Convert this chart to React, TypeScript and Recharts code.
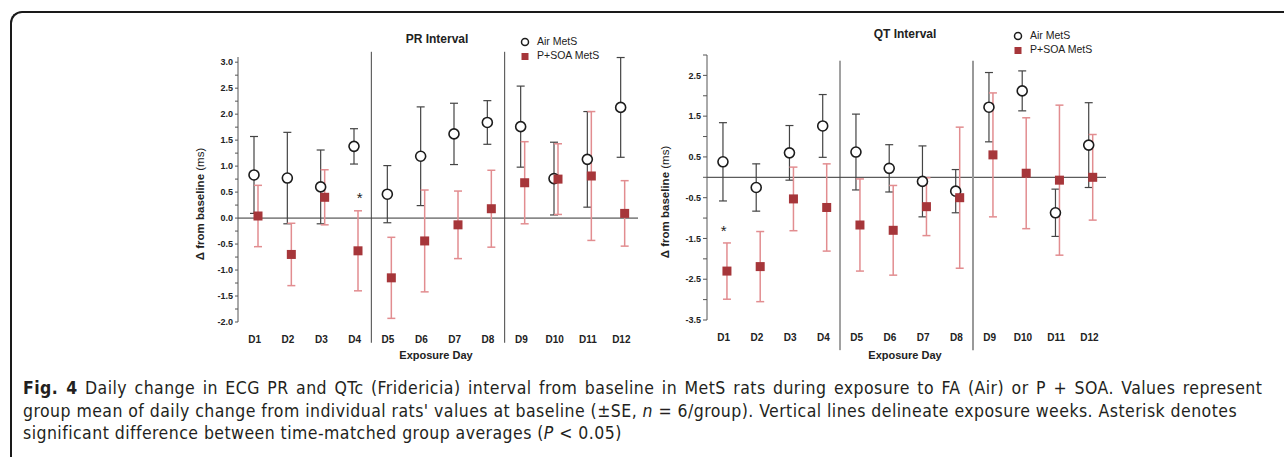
import React from 'react';
import { ScatterChart, Scatter, XAxis, YAxis, ErrorBar, ReferenceLine, ReferenceDot } from 'recharts';

// exposure days
const days = ['D1', 'D2', 'D3', 'D4', 'D5', 'D6', 'D7', 'D8', 'D9', 'D10', 'D11', 'D12'];

// PR interval, change from baseline (ms), mean and SE
const prAir = [0.83, 0.77, 0.6, 1.38, 0.46, 1.19, 1.62, 1.84, 1.76, 0.76, 1.13, 2.13];
const prAirSe = [0.74, 0.88, 0.71, 0.34, 0.55, 0.95, 0.59, 0.42, 0.78, 0.7, 0.92, 0.96];
const prSoa = [0.04, -0.7, 0.4, -0.63, -1.15, -0.44, -0.13, 0.18, 0.68, 0.75, 0.81, 0.09];
const prSoaSe = [0.59, 0.6, 0.53, 0.77, 0.78, 0.98, 0.65, 0.74, 0.79, 0.68, 1.24, 0.63];

// QT interval
const qtAir = [0.38, -0.25, 0.6, 1.26, 0.62, 0.22, -0.1, -0.34, 1.72, 2.12, -0.87, 0.79];
const qtAirSe = [0.96, 0.58, 0.67, 0.77, 0.93, 0.58, 0.87, 0.53, 0.85, 0.49, 0.58, 1.04];
const qtSoa = [-2.3, -2.19, -0.53, -0.74, -1.17, -1.3, -0.72, -0.5, 0.55, 0.1, -0.07, 0.0];
const qtSoaSe = [0.69, 0.86, 0.78, 1.07, 1.13, 1.1, 0.71, 1.73, 1.52, 1.36, 1.84, 1.05];

// y ticks (all tick marks) and the ones that carry a label
const prTicks = [-2, -1.75, -1.5, -1.25, -1, -0.75, -0.5, -0.25, 0, 0.25, 0.5, 0.75, 1, 1.25, 1.5, 1.75, 2, 2.25, 2.5, 2.75, 3];
const prTickLabels = [-2, -1.5, -1, -0.5, 0, 0.5, 1, 1.5, 2, 2.5, 3];
const qtTicks = [-3.5, -3, -2.5, -2, -1.5, -1, -0.5, 0, 0.5, 1, 1.5, 2, 2.5, 3];
const qtTickLabels = [-3.5, -2.5, -1.5, -0.5, 0.5, 1.5, 2.5];

// week boundaries and significance markers
const weekBreaks = [4.5, 8.5];
const prStar = { day: 4, value: 0.45 };
const qtStar = { day: 1, value: -1.25 };

const SOA_SHIFT = 0.1;
const AIR_SHIFT = -0.02;

const ARIAL = 'Arial, "Liberation Sans", sans-serif';
const DARK = '#222';
const RED = '#a6363a';
const PINK = '#e28d90';

const mkPts = (vals: number[], ses: number[], shift: number) =>
    vals.map((v, i) => ({ x: i + 1 + shift, y: v, se: ses[i] }));

const AirDot = (p: any) => <circle cx={p.cx} cy={p.cy} r={5} fill="#fff" stroke="#1c1c1c" strokeWidth={1.6} />;
const SoaSq = (p: any) => <rect x={p.cx - 4.5} y={p.cy - 4.5} width={9} height={9} fill={RED} />;

const YTick = (props: any) => {
    const { x, y, payload, labels } = props;
    if (!labels.includes(payload.value)) return null;
    return (
        <text x={x} y={y} dy="0.35em" textAnchor="end" fontSize={9} fontWeight="bold" fill={DARK} fontFamily={ARIAL}>
            {payload.value.toFixed(1)}
        </text>
    );
};

const Star = (p: any) => (
    <text x={p.cx + p.dx} y={p.cy + 8} textAnchor="middle" fontSize={15} fill={DARK} fontFamily={ARIAL}>*</text>
);

interface PanelProps {
    left: number;
    width: number;
    marginLeft: number;
    marginTop: number;
    marginBottom: number;
    yWidth: number;
    tickSize: number;
    tickMargin: number;
    domain: [number, number];
    ticks: number[];
    labels: number[];
    air: number[];
    airSe: number[];
    soa: number[];
    soaSe: number[];
    sepRange: [number, number];
    star: { day: number; value: number };
    starDx: number;
    secondSepGrey?: boolean;
}

const Panel = (p: PanelProps) => {
    const airPts = mkPts(p.air, p.airSe, AIR_SHIFT);
    const soaPts = mkPts(p.soa, p.soaSe, SOA_SHIFT);
    return (
        <div style={{ position: 'absolute', left: p.left, top: 0 }}>
            <ScatterChart width={p.width} height={370}
                margin={{ top: p.marginTop, right: 10, bottom: p.marginBottom, left: p.marginLeft }}>
                <XAxis type="number" dataKey="x" domain={[0.5, 12.5]} ticks={days.map((_, i) => i + 1)} interval={0}
                    tickFormatter={(v: number) => days[v - 1]} axisLine={false} tickLine={false} tickSize={0} tickMargin={14}
                    height={30} tick={{ fontSize: 10, fontWeight: 'bold', fill: DARK, fontFamily: ARIAL }} />
                <YAxis type="number" dataKey="y" domain={p.domain} ticks={p.ticks} interval={0} width={p.yWidth}
                    allowDataOverflow axisLine={{ stroke: '#555' }} tickLine={{ stroke: '#555' }}
                    tickSize={p.tickSize} tickMargin={p.tickMargin} tick={<YTick labels={p.labels} />} />
                <ReferenceLine y={0} stroke="#333" strokeWidth={1} />
                {weekBreaks.map((b, i) => (
                    <ReferenceLine key={b} ifOverflow="visible"
                        segment={[{ x: b, y: p.sepRange[0] }, { x: b, y: p.sepRange[1] }]}
                        stroke={p.secondSepGrey && i === 1 ? '#999' : '#444'}
                        strokeWidth={p.secondSepGrey && i === 1 ? 2 : 1} />
                ))}
                <Scatter data={airPts} shape={AirDot} isAnimationActive={false}>
                    <ErrorBar dataKey="se" direction="y" width={4} stroke="#444" strokeWidth={1.2} />
                </Scatter>
                <Scatter data={soaPts} shape={SoaSq} isAnimationActive={false}>
                    <ErrorBar dataKey="se" direction="y" width={4} stroke={PINK} strokeWidth={1.5} />
                </Scatter>
                <ReferenceDot x={p.star.day} y={p.star.value} r={0} ifOverflow="visible"
                    shape={(s: any) => <Star {...s} dx={p.starDx} />} />
            </ScatterChart>
        </div>
    );
};

const centered = (x: number, y: number, extra: React.CSSProperties = {}): React.CSSProperties => ({
    position: 'absolute', left: x, top: y, transform: 'translate(-50%, -50%)', whiteSpace: 'nowrap',
    fontFamily: ARIAL, color: DARK, ...extra,
});

const Legend = ({ x, y }: { x: number; y: number }) => (
    <>
        <svg style={{ position: 'absolute', left: x - 6, top: y - 6 }} width={12} height={28}>
            <circle cx={6} cy={6} r={3.5} fill="#fff" stroke="#1c1c1c" strokeWidth={1.5} />
            <rect x={2.5} y={17} width={7} height={7} fill={RED} />
        </svg>
        <div style={{ position: 'absolute', left: x + 12, top: y - 7.5, fontFamily: ARIAL, fontSize: 10.5, color: DARK, whiteSpace: 'nowrap' }}>Air MetS</div>
        <div style={{ position: 'absolute', left: x + 12, top: y + 7, fontFamily: ARIAL, fontSize: 10.5, color: DARK, whiteSpace: 'nowrap' }}>P+SOA MetS</div>
    </>
);

const YLabel = ({ x, y }: { x: number; y: number }) => (
    <div style={centered(x, y, { transform: 'translate(-50%, -50%) rotate(-90deg)', fontSize: 11.5 })}>
        <b>Δ from baseline</b> (ms)
    </div>
);

const captionLine: React.CSSProperties = {
    position: 'absolute', left: 23, width: 1242, fontSize: 17.5, letterSpacing: 0.45, color: '#231f20',
    fontFamily: '"DejaVu Sans Condensed", "Liberation Sans Narrow", sans-serif', fontStretch: 'condensed',
    lineHeight: '20px', whiteSpace: 'nowrap',
};

export default function App() {
    return (
        <div style={{ position: 'absolute', left: 0, top: 0, width: 1284, height: 457, overflow: 'hidden', background: '#fff' }}>
            <div style={{
                position: 'absolute', left: 10, top: 11, width: 1274, height: 446, boxSizing: 'border-box',
                borderTop: '2px solid #1a1a1a', borderLeft: '2px solid #1a1a1a', borderTopLeftRadius: 12,
            }} />

            <Panel left={180} width={468} marginLeft={10} marginTop={57} marginBottom={18} yWidth={48}
                tickSize={3} tickMargin={2} domain={[-2, 3.1]} ticks={prTicks} labels={prTickLabels}
                air={prAir} airSe={prAirSe} soa={prSoa} soaSe={prSoaSe} sepRange={[3.2, -2.4]}
                star={prStar} starDx={5} />
            <Panel left={650} width={466} marginLeft={10} marginTop={55} marginBottom={20} yWidth={47}
                tickSize={4} tickMargin={2} domain={[-3.5, 3.0]} ticks={qtTicks} labels={qtTickLabels}
                air={qtAir} airSe={qtAirSe} soa={qtSoa} soaSe={qtSoaSe} sepRange={[2.86, -4.24]}
                star={qtStar} starDx={0} secondSepGrey />

            <div style={centered(437, 39, { fontSize: 12, fontWeight: 'bold' })}>PR Interval</div>
            <div style={centered(905, 34, { fontSize: 12, fontWeight: 'bold' })}>QT Interval</div>
            <Legend x={525} y={42} />
            <Legend x={1018} y={36} />
            <YLabel x={200} y={204} />
            <YLabel x={665} y={202} />
            <div style={centered(436, 355, { fontSize: 11, fontWeight: 'bold' })}>Exposure Day</div>
            <div style={centered(905, 355, { fontSize: 11, fontWeight: 'bold' })}>Exposure Day</div>

            <div style={{ ...captionLine, top: 378, wordSpacing: 2 }}>
                <b>Fig. 4</b> Daily change in ECG PR and QTc (Fridericia) interval from baseline in MetS rats during exposure to FA (Air) or P + SOA. Values represent
            </div>
            <div style={{ ...captionLine, top: 401 }}>
                group mean of daily change from individual rats' values at baseline (±SE, <i>n</i> = 6/group). Vertical lines delineate exposure weeks. Asterisk denotes
            </div>
            <div style={{ ...captionLine, top: 423 }}>
                significant difference between time-matched group averages (<i>P</i> &lt; 0.05)
            </div>
        </div>
    );
}
